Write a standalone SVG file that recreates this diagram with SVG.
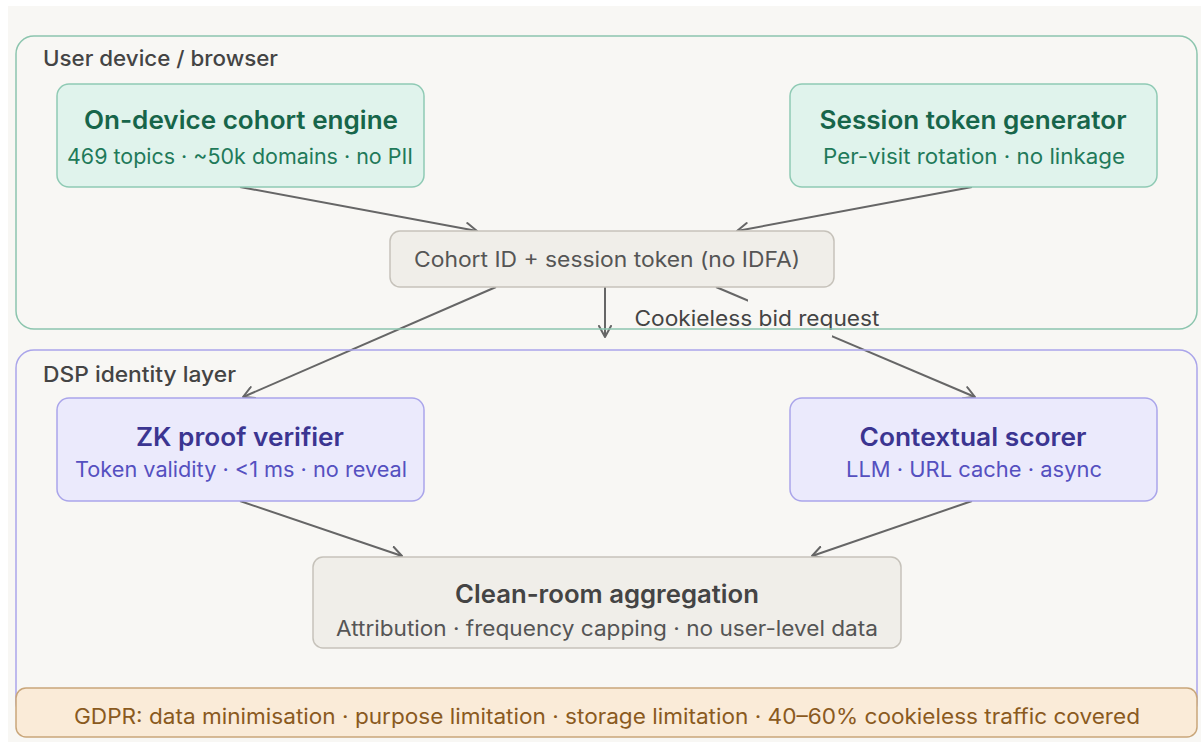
<svg xmlns="http://www.w3.org/2000/svg" width="1201" height="742" viewBox="0 0 1201 742">
  <style>
    text { font-family: Inter, "Noto Sans", "Liberation Sans", sans-serif; }
    .zone-label { font-size: 21px; font-weight: 500; fill: #444444; }
    .title { font-size: 25px; font-weight: 600; text-anchor: middle; }
    .sub { font-size: 21px; font-weight: 400; text-anchor: middle; }
    .green-box { fill: #e0f3ec; stroke: #8fcab4; stroke-width: 1.5; }
    .green-title { fill: #17654a; }
    .green-sub { fill: #1f7a5a; }
    .purple-box { fill: #ebeafc; stroke: #aaa5ea; stroke-width: 1.5; }
    .purple-title { fill: #3b3591; }
    .purple-sub { fill: #5550c0; }
    .neutral-box { fill: #f0eee9; stroke: #c6c2ba; stroke-width: 1.5; }
    .neutral-title { fill: #444444; }
    .neutral-sub { fill: #555555; }
    .edge { fill: none; stroke: #666666; stroke-width: 2; marker-end: url(#chevron); }
  </style>
  <defs>
    <marker id="chevron" viewBox="0 0 14 14" refX="12" refY="7" markerWidth="14" markerHeight="14" markerUnits="userSpaceOnUse" orient="auto">
      <path d="M1,1 L12,7 L1,13" fill="none" stroke="#666666" stroke-width="2" stroke-linecap="round" stroke-linejoin="round"/>
    </marker>
  </defs>

  <!-- page -->
  <rect x="0" y="0" width="1201" height="742" fill="#ffffff"/>
  <rect x="8" y="6" width="1193" height="736" fill="#f8f7f4"/>

  <!-- connectors -->
  <g id="connectors">
    <line class="edge" x1="240" y1="187" x2="477" y2="231"/>
    <line class="edge" x1="972" y1="187" x2="737" y2="231"/>
    <line class="edge" x1="496" y1="287" x2="243" y2="397"/>
    <line class="edge" x1="605" y1="287" x2="605" y2="337"/>
    <line class="edge" x1="716" y1="287" x2="975" y2="397"/>
    <line class="edge" x1="240" y1="501" x2="402" y2="556"/>
    <line class="edge" x1="972" y1="501" x2="812" y2="556"/>
    <g id="edge-label">
      <rect x="748" y="299" width="84" height="38" fill="#f8f7f4"/>
      <text x="757" y="326" font-size="21" fill="#444444" text-anchor="middle" textLength="245" lengthAdjust="spacingAndGlyphs">Cookieless bid request</text>
    </g>
  </g>

  <!-- zones -->
  <g id="zone-user-device">
    <rect x="16" y="36" width="1181" height="293" rx="18" fill="none" stroke="#8cc5ae" stroke-width="1.5"/>
    <text class="zone-label" x="43" y="66" textLength="235" lengthAdjust="spacingAndGlyphs">User device / browser</text>
  </g>
  <g id="zone-dsp">
    <rect x="16" y="350" width="1181" height="370" rx="18" fill="none" stroke="#aaa5ea" stroke-width="1.5"/>
    <text class="zone-label" x="43" y="382" textLength="193" lengthAdjust="spacingAndGlyphs">DSP identity layer</text>
  </g>

  <!-- nodes -->
  <g id="cohort-engine">
    <rect class="green-box" x="57" y="84" width="367" height="103" rx="12"/>
    <text class="title green-title" x="241" y="129" textLength="314" lengthAdjust="spacingAndGlyphs">On-device cohort engine</text>
    <text class="sub green-sub" x="240" y="164" textLength="346" lengthAdjust="spacingAndGlyphs">469 topics · ~50k domains · no PII</text>
  </g>
  <g id="session-token">
    <rect class="green-box" x="790" y="84" width="367" height="103" rx="12"/>
    <text class="title green-title" x="973" y="129" textLength="307" lengthAdjust="spacingAndGlyphs">Session token generator</text>
    <text class="sub green-sub" x="974" y="164" textLength="302" lengthAdjust="spacingAndGlyphs">Per-visit rotation · no linkage</text>
  </g>
  <g id="cohort-id">
    <rect class="neutral-box" x="390" y="231" width="444" height="56" rx="10"/>
    <text x="607" y="267" font-size="21" fill="#555555" text-anchor="middle" textLength="386" lengthAdjust="spacingAndGlyphs">Cohort ID + session token (no IDFA)</text>
  </g>
  <g id="zk-verifier">
    <rect class="purple-box" x="57" y="398" width="367" height="103" rx="12"/>
    <text class="title purple-title" x="240" y="446" textLength="208" lengthAdjust="spacingAndGlyphs">ZK proof verifier</text>
    <text class="sub purple-sub" x="241" y="477" textLength="332" lengthAdjust="spacingAndGlyphs">Token validity · &lt;1 ms · no reveal</text>
  </g>
  <g id="contextual-scorer">
    <rect class="purple-box" x="790" y="398" width="367" height="103" rx="12"/>
    <text class="title purple-title" x="973" y="446" textLength="227" lengthAdjust="spacingAndGlyphs">Contextual scorer</text>
    <text class="sub purple-sub" x="974" y="477" textLength="256" lengthAdjust="spacingAndGlyphs">LLM · URL cache · async</text>
  </g>
  <g id="clean-room">
    <rect class="neutral-box" x="313" y="557" width="588" height="91" rx="10"/>
    <text class="title neutral-title" x="607" y="603" textLength="304" lengthAdjust="spacingAndGlyphs">Clean-room aggregation</text>
    <text class="sub neutral-sub" x="607" y="636" textLength="542" lengthAdjust="spacingAndGlyphs">Attribution · frequency capping · no user-level data</text>
  </g>
  <g id="gdpr-band">
    <rect x="16" y="688" width="1181" height="49" rx="10" fill="#faebd8" stroke="#c9a67a" stroke-width="1.5"/>
    <text x="607" y="724" font-size="21" fill="#8a5a1e" text-anchor="middle" textLength="1066" lengthAdjust="spacingAndGlyphs">GDPR: data minimisation · purpose limitation · storage limitation · 40–60% cookieless traffic covered</text>
  </g>
</svg>
